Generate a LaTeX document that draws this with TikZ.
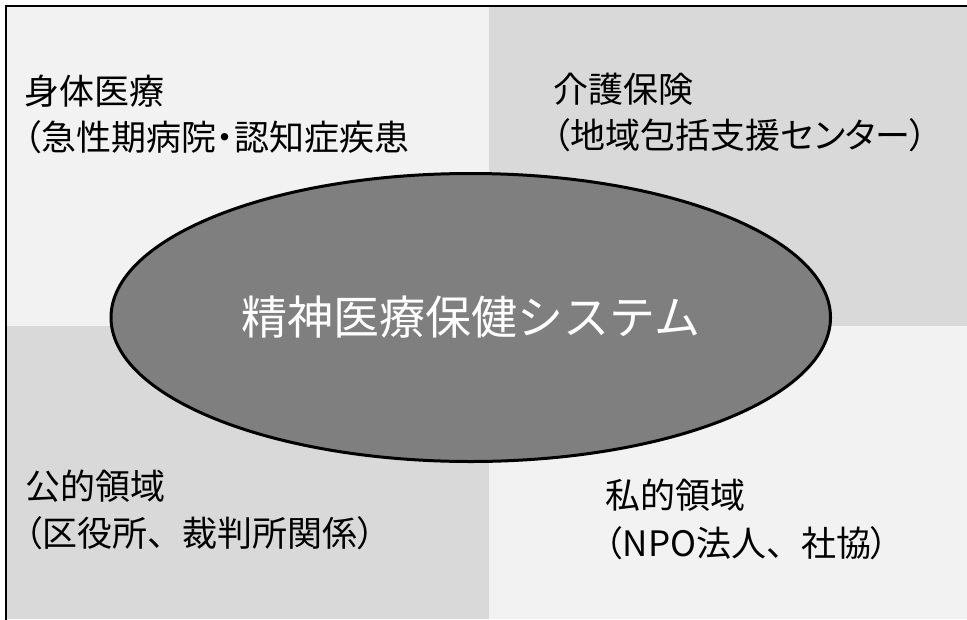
\documentclass[tikz,border=0pt]{standalone}
\usepackage{fontspec}
\setmainfont{Noto Sans CJK JP}
\newfontfamily\jpp[RawFeature=+palt]{Noto Sans CJK JP}
\usetikzlibrary{shapes.geometric}
\definecolor{qlight}{RGB}{242,242,242}
\definecolor{qdark}{RGB}{217,217,217}
\definecolor{ellgray}{RGB}{127,127,127}
\tikzset{
  lab/.style={anchor=base west, inner sep=0pt, font=\fontsize{35}{42}\selectfont, text=black},
  sysell/.style={ellipse, draw=black, line width=3pt, fill=ellgray, minimum width=719.5pt, minimum height=288pt, inner sep=0pt, text=white, font=\fontsize{46}{55}\selectfont}
}
\begin{document}
\begin{tikzpicture}[x=1pt,y=-1pt]
\useasboundingbox (0,0) rectangle (967,619);
\fill[qlight] (6,6) rectangle (489,326);
\fill[qdark] (489,6) rectangle (967,326);
\fill[qdark] (6,326) rectangle (489,619);
\fill[qlight] (489,326) rectangle (967,619);
\draw[line width=2pt] (6,630) -- (6,6) -- (980,6);
\node[sysell] (sys) at (470.75,317.5) {精神医療保健システム};
\node[lab] (tl1) at (24,104) {身体医療};
\node[lab] (tl2) at (24,150) {{\jpp （}急性期病院{\jpp ・}認知症疾患};
\node[lab] (tr1) at (553,102) {介護保険};
\node[lab] (tr2) at (553,148) {{\jpp （}地域包括支援{\jpp センター）}};
\node[lab] (bl1) at (25,499) {公的領域};
\node[lab] (bl2) at (25,546) {{\jpp （}区役所、裁判所関係{\jpp ）}};
\node[lab] (br1) at (605,508) {私的領域};
\node[lab] (br2) at (605,556) {{\jpp （}NPO法人、社協{\jpp ）}};
\end{tikzpicture}
\end{document}
